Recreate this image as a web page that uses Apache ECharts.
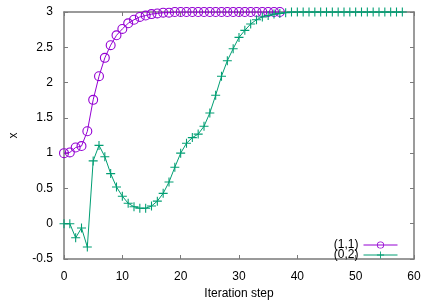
<!DOCTYPE html>
<html>
<head>
<meta charset="utf-8">
<script src="https://cdn.jsdelivr.net/npm/echarts@6/dist/echarts.min.js"></script>
<style>html,body{margin:0;padding:0;background:#fff}#c{width:436px;height:305px}</style>
</head>
<body>
<div id="c"></div>
<script>
const seriesNames = ['(1,1)', '(0,2)'];
const xTicks = [0, 10, 20, 30, 40, 50, 60];
const yTicks = [-0.5, 0, 0.5, 1, 1.5, 2, 2.5, 3];
const s11 = [1.0, 1.01, 1.08, 1.10, 1.31, 1.755, 2.09, 2.35, 2.53, 2.67,
             2.76, 2.84, 2.89, 2.93, 2.95, 2.97, 2.98, 2.99, 2.99, 3.0,
             3.0, 3.0, 3.0, 3.0, 3.0, 3.0, 3.0, 3.0, 3.0, 3.0,
             3.0, 3.0, 3.0, 3.0, 3.0, 3.0, 3.0, 3.0];
const s02 = [0, 0, -0.20, -0.06, -0.33, 0.89, 1.11, 0.95, 0.71, 0.52,
             0.39, 0.29, 0.24, 0.22, 0.22, 0.25, 0.32, 0.43, 0.59, 0.80,
             1.0, 1.14, 1.22, 1.27, 1.38, 1.57, 1.82, 2.09, 2.31, 2.48,
             2.64, 2.74, 2.83, 2.89, 2.93, 2.95, 2.97, 2.98, 2.99, 3.0,
             3.0, 3.0, 3.0, 3.0, 3.0, 3.0, 3.0, 3.0, 3.0, 3.0,
             3.0, 3.0, 3.0, 3.0, 3.0, 3.0, 3.0, 3.0, 3.0];
const colors = ['#9400d3', '#009e73'];

const font = "'Liberation Sans', Arial, sans-serif";
const frame = {color: '#7a7a7a', width: 1.5};
const chart = echarts.init(document.getElementById('c'), null, {renderer: 'canvas'});
function axisBase(extra) {
  return Object.assign({
    type: 'value',
    axisLine: {show: true, onZero: false, lineStyle: frame},
    axisTick: {show: true, inside: true, length: 4, lineStyle: {color: '#7a7a7a', width: 1}},
    splitLine: {show: false},
  }, extra);
}
const plus = 'path://M4.4,0H5.6V4.4H10V5.6H5.6V10H4.4V5.6H0V4.4H4.4Z';
const ring = 'path://M0,5A5,5 0 1,0 10,5A5,5 0 1,0 0,5ZM1.1,5A3.9,3.9 0 1,1 8.9,5A3.9,3.9 0 1,1 1.1,5Z';
chart.setOption({
  animation: false,
  grid: {left: 60, right: 22, top: 12, bottom: 39, containLabel: false},
  xAxis: [
    axisBase({min: xTicks[0], max: xTicks[xTicks.length-1], interval: 10, position: 'bottom',
      name: 'Iteration step', nameLocation: 'middle', nameGap: 29,
      nameTextStyle: {fontFamily: font, fontSize: 12, color: '#000'},
      axisLabel: {fontFamily: font, fontSize: 12, color: '#000', margin: 12}}),
    axisBase({min: xTicks[0], max: xTicks[xTicks.length-1], interval: 10, position: 'top',
      axisLabel: {show: false}})
  ],
  yAxis: [
    axisBase({min: yTicks[0], max: yTicks[yTicks.length-1], interval: 0.5, position: 'left',
      name: 'x', nameLocation: 'middle', nameGap: 44, nameRotate: 90,
      nameTextStyle: {fontFamily: font, fontSize: 12, color: '#000'},
      axisLabel: {fontFamily: font, fontSize: 12, color: '#000', margin: 11}}),
    axisBase({min: yTicks[0], max: yTicks[yTicks.length-1], interval: 0.5, position: 'right',
      axisLabel: {show: false}})
  ],
  legend: {
    orient: 'vertical', right: 33, top: 234, align: 'right',
    itemWidth: 34, itemHeight: 9, itemGap: -2,
    lineStyle: {width: 1},
    textStyle: {fontFamily: font, fontSize: 12, color: '#000'},
    data: seriesNames
  },
  series: [
    {name: seriesNames[0], type: 'line', data: s11.map((v, i) => [i, v]),
     symbol: ring, symbolSize: 10, showAllSymbol: true,
     lineStyle: {color: colors[0], width: 1},
     itemStyle: {color: colors[0]}},
    {name: seriesNames[1], type: 'line', data: s02.map((v, i) => [i, v]),
     symbol: plus, symbolSize: 9, showAllSymbol: true,
     lineStyle: {color: colors[1], width: 1},
     itemStyle: {color: colors[1]}}
  ]
});
</script>
</body>
</html>
